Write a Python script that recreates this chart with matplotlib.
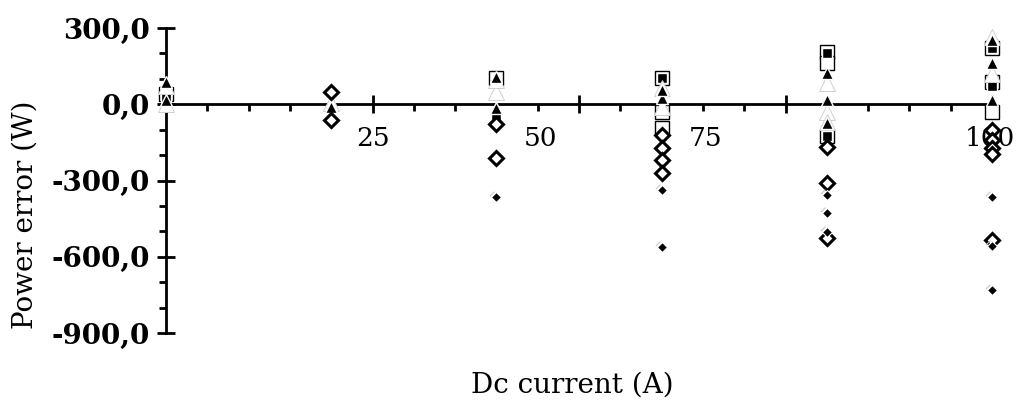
import numpy as np
import matplotlib
matplotlib.use("Agg")
import matplotlib.pyplot as plt
from matplotlib.path import Path
from matplotlib.ticker import MultipleLocator, FixedLocator, FuncFormatter
from matplotlib.transforms import blended_transform_factory

nan = np.nan

# Dc current (A)
current = [0, 20, 40, 60, 80, 100]

# Power error (W) for each test series
open_sq_a = [40, nan, 103, 103, 205, 221]
open_sq_b = [nan, nan, nan, -30, 162, 89]
open_sq_c = [nan, nan, nan, -94, -125, -29]

filled_sq_a = [30, nan, -55, 105, 200, 70]
filled_sq_b = [nan, nan, nan, nan, -125, 221]

white_tri_a = [70, 5, 48, 64, 84, 266]
white_tri_b = [0, nan, 95, -10, -29, 120]
white_tri_c = [nan, nan, nan, nan, -68, nan]

filled_tri_a = [89, nan, 107, 25, 122, 253]
filled_tri_b = [17, -10, -15, 58, 17, 162]
filled_tri_c = [nan, nan, nan, nan, -74, 17]

open_dia_a = [nan, 48, -78, -121, -167, -101]
open_dia_b = [nan, -62, -211, -172, -310, -140]
open_dia_c = [nan, nan, nan, -219, -526, -172]
open_dia_d = [nan, nan, nan, -270, nan, -195]
open_dia_e = [nan, nan, nan, nan, nan, -535]

filled_dia_a = [nan, nan, -365, -338, -357, -363]
filled_dia_b = [nan, nan, nan, -561, -428, -557]
filled_dia_c = [nan, nan, nan, nan, -501, -731]

x_tick_values = [25, 50, 75, 100]
x_tick_text = ["25", "50", "75", "100"]
y_tick_values = [-900, -600, -300, 0, 300]

SERIF = "DejaVu Serif"

fig = plt.figure(figsize=(10.24, 4.12), dpi=100)
ax = fig.add_axes([166 / 1024, 1 - 333 / 412, 826 / 1024, 305 / 412])
ax.set_xlim(0, 100)
ax.set_ylim(-900, 300)

for side in ("top", "right"):
    ax.spines[side].set_visible(False)
ax.spines["left"].set_position(("data", 0))
ax.spines["bottom"].set_position(("data", 0))
for side in ("left", "bottom"):
    ax.spines[side].set_linewidth(2.0)
    ax.spines[side].set_zorder(1)

ax.xaxis.set_major_locator(FixedLocator(x_tick_values))
ax.xaxis.set_minor_locator(MultipleLocator(5))
ax.yaxis.set_major_locator(FixedLocator(y_tick_values))
ax.yaxis.set_minor_locator(MultipleLocator(100))
ax.tick_params(axis="both", which="major", direction="inout", length=13, width=2.0)
ax.tick_params(axis="both", which="minor", direction="out", length=5, width=2.0)
ax.xaxis.set_major_formatter(FuncFormatter(lambda v, p: ""))
ax.yaxis.set_major_formatter(FuncFormatter(lambda v, p: f"{v:.1f}".replace(".", ",")))
ax.tick_params(axis="y", which="major", pad=5, labelsize=20)
for lab in ax.get_yticklabels():
    lab.set_fontfamily(SERIF)
    lab.set_fontweight("bold")

# x tick labels sit below the axis line
label_x = [25, 45.3, 65.3, 99.8]
trans = blended_transform_factory(ax.transData, fig.transFigure)
for xv, txt in zip(label_x, x_tick_text):
    ax.text(xv, 1 - 139 / 412, txt, transform=trans, ha="center", va="center",
            fontsize=19, fontfamily=SERIF, zorder=2)

common = dict(linestyle="none", clip_on=False)

def draw(vals, **kw):
    ax.plot(current, vals, **common, **kw)

for s in (open_sq_a, open_sq_b, open_sq_c):
    draw(s, marker="s", ms=10, mfc="white", mec="black", mew=1.0, zorder=3)
for s in (filled_sq_a, filled_sq_b):
    draw(s, marker="s", ms=7, mfc="black", mec="white", mew=1.0, zorder=4)
for s in (white_tri_a, white_tri_b, white_tri_c):
    draw(s, marker="^", ms=12, mfc="white", mec="#d0d0d0", mew=0.7, zorder=5)
for s in (filled_tri_a, filled_tri_b, filled_tri_c):
    draw(s, marker="^", ms=8.5, mfc="black", mec="white", mew=1.0, zorder=6)
for s in (open_dia_a, open_dia_b, open_dia_c, open_dia_d, open_dia_e):
    draw(s, marker="D", ms=7.5, mfc="white", mec="black", mew=2.2, zorder=7)

# faint slash just up-left of each small filled diamond
slash = Path([(2.0, 2.0), (-1.6, 0.3), (-0.5, 1.4)],
             [Path.MOVETO, Path.MOVETO, Path.LINETO])
for s in (filled_dia_a, filled_dia_b, filled_dia_c):
    draw(s, marker=slash, ms=12, mfc="none", mec="#c8c8c8", mew=0.8, zorder=8)
    draw(s, marker="D", ms=5.5, mfc="black", mec="white", mew=0.8, zorder=9)

fig.text(25 / 1024, 1 - 215 / 412, "Power error (W)", rotation=90, ha="center",
         va="center", fontsize=20, fontfamily=SERIF)
fig.text(572 / 1024, 1 - 385 / 412, "Dc current (A)", ha="center", va="center",
         fontsize=20, fontfamily=SERIF)

fig.savefig("out.png", dpi=100, facecolor="white")
